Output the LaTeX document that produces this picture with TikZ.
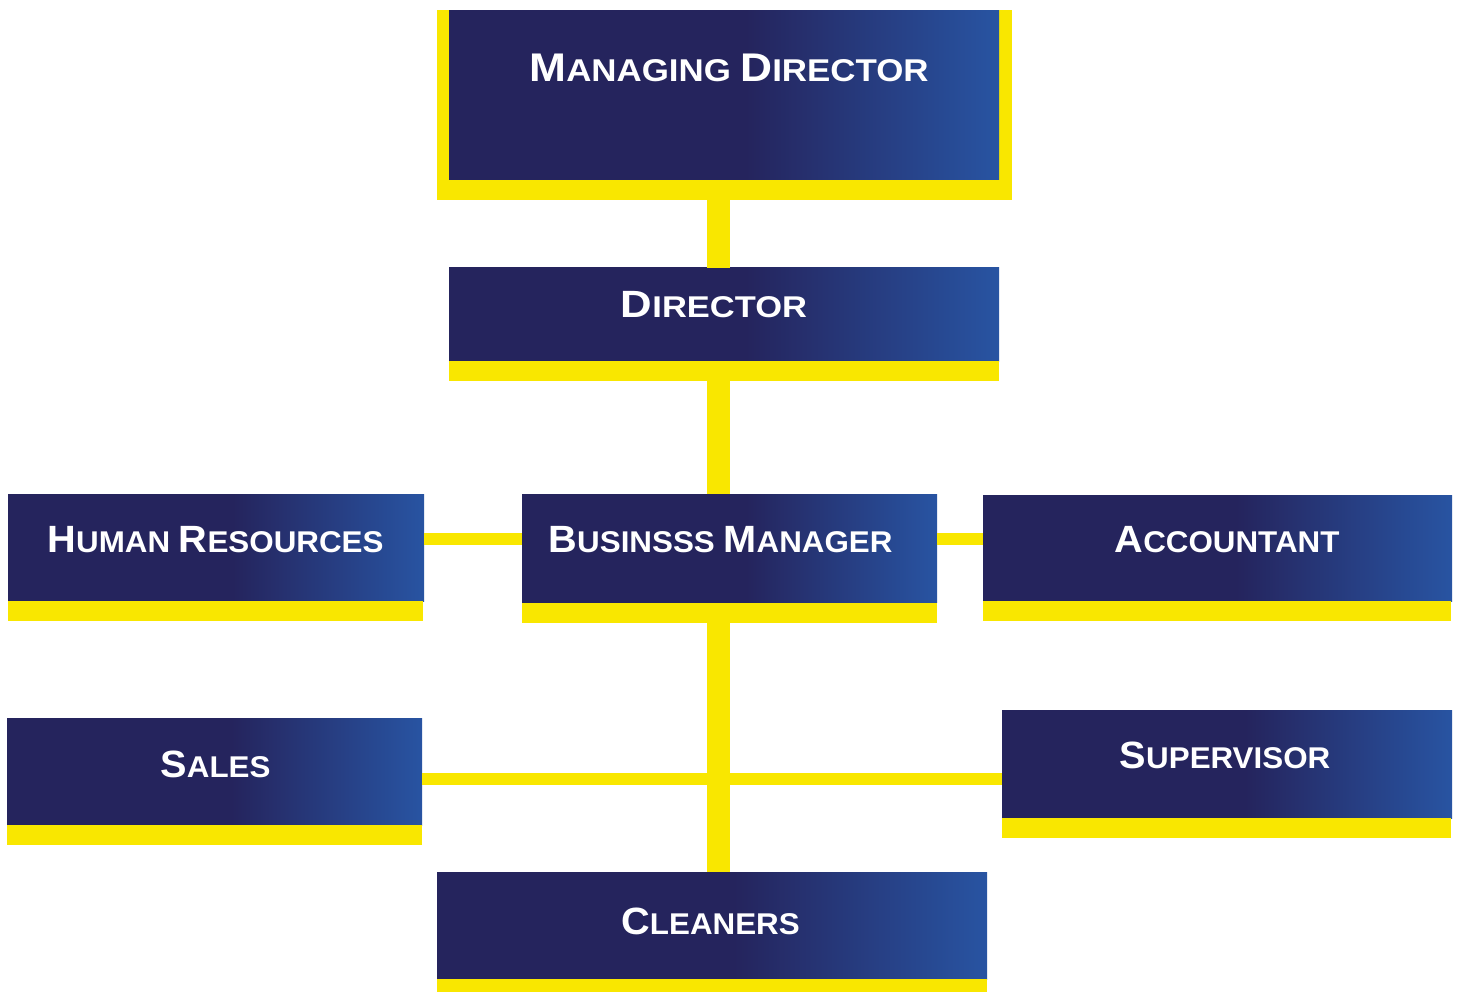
\documentclass[tikz,border=0pt]{standalone}
\usepackage{fontspec}
\setmainfont{Liberation Sans}
\newfontfamily\labfont[FakeStretch=1.045]{Liberation Sans}
\definecolor{navyc}{RGB}{37,36,93}
\definecolor{bluec}{RGB}{40,84,162}
\definecolor{yelc}{RGB}{249,231,0}
\pgfdeclarehorizontalshading{orggrad}{100bp}{color(0bp)=(navyc); color(25bp)=(navyc); color(52bp)=(navyc); color(75bp)=(bluec); color(100bp)=(bluec)}
\newcommand\capL{\fontsize{38}{40}\selectfont}
\newcommand\smlL{\fontsize{30}{32}\selectfont}
\newcommand\sclab[2]{{\capL #1}{\smlL #2}}
\newcommand\bigsclab[2]{{\fontsize{40}{42}\selectfont #1}{\fontsize{31.5}{33}\selectfont #2}}
\tikzset{
  orgbox/.style={rectangle, draw=none, inner sep=0pt, outer sep=0pt, anchor=north west, shading=orggrad},
  ybar/.style={rectangle, fill=yelc, draw=none, inner sep=0pt, outer sep=0pt, anchor=north west},
  lab/.style={text=white, font=\labfont\bfseries\smlL, anchor=base, inner sep=0pt},
  vconn/.style={draw=yelc, line width=23pt},
  hconn/.style={draw=yelc, line width=12pt},
}
\begin{document}
\begin{tikzpicture}[x=1pt, y=-1pt]
\useasboundingbox (0,0) rectangle (1459,992);
\fill[white] (0,0) rectangle (1459,992);

% Managing director (yellow frame behind)
\node[ybar, minimum width=575pt, minimum height=190pt] (mdf) at (437,10) {};
\node[orgbox, minimum width=550pt, minimum height=169pt] (md) at (449,11) {};
% Director
\node[orgbox, minimum width=550pt, minimum height=93pt] (dir) at (449,268) {};
\node[ybar, minimum width=550pt, minimum height=20pt] (diry) at (449,361) {};
% Human resources
\node[orgbox, minimum width=416pt, minimum height=107pt] (hr) at (8,494) {};
\node[ybar, minimum width=415pt, minimum height=20pt] (hry) at (8,601) {};
% Business manager
\node[orgbox, minimum width=415pt, minimum height=108pt] (bm) at (522,494) {};
\node[ybar, minimum width=415pt, minimum height=20pt] (bmy) at (522,603) {};
% Accountant
\node[orgbox, minimum width=469pt, minimum height=106pt] (acc) at (983,495) {};
\node[ybar, minimum width=468pt, minimum height=20pt] (accy) at (983,601) {};
% Sales
\node[orgbox, minimum width=415pt, minimum height=107pt] (sal) at (7,718) {};
\node[ybar, minimum width=415pt, minimum height=20pt] (saly) at (7,825) {};
% Supervisor
\node[orgbox, minimum width=450pt, minimum height=108pt] (sup) at (1002,710) {};
\node[ybar, minimum width=449pt, minimum height=20pt] (supy) at (1002,818) {};
% Cleaners
\node[orgbox, minimum width=550pt, minimum height=107pt] (cle) at (437,872) {};
\node[ybar, minimum width=550pt, minimum height=14pt] (cley) at (437,979) {};

% connectors
\coordinate (trunk) at (718.5,0);
\coordinate (row1) at (0,539);
\coordinate (row2) at (0,779);
\draw[vconn] (mdf.south -| trunk) -- (dir.north -| trunk);
\draw[vconn] (diry.south -| trunk) -- (bm.north -| trunk);
\draw[vconn] (bmy.south -| trunk) -- (cle.north -| trunk);
\draw[hconn] (hr.east |- row1) -- (bm.west |- row1);
\draw[hconn] (bm.east |- row1) -- (acc.west |- row1);
\draw[hconn] (sal.east |- row2) -- (sup.west |- row2);

% labels
\node[lab] (mdt) at (729,82) {\scalebox{1.06}[1]{\bigsclab{M}{ANAGING} \bigsclab{D}{IRECTOR}}};
\node[lab] (dirt) at (714,318) {\scalebox{1.1}[1]{\sclab{D}{IRECTOR}}};
\node[lab] (hrt) at (215.5,552) {\sclab{H}{UMAN} \sclab{R}{ESOURCES}};
\node[lab] (bmt) at (720.5,552) {\sclab{B}{USINSSS} \sclab{M}{ANAGER}};
\node[lab] (acct) at (1227,552) {\sclab{A}{CCOUNTANT}};
\node[lab] (salt) at (215.5,777) {\sclab{S}{ALES}};
\node[lab] (supt) at (1225,768) {\sclab{S}{UPERVISOR}};
\node[lab] (clet) at (710.5,934) {\sclab{C}{LEANERS}};
\end{tikzpicture}
\end{document}
